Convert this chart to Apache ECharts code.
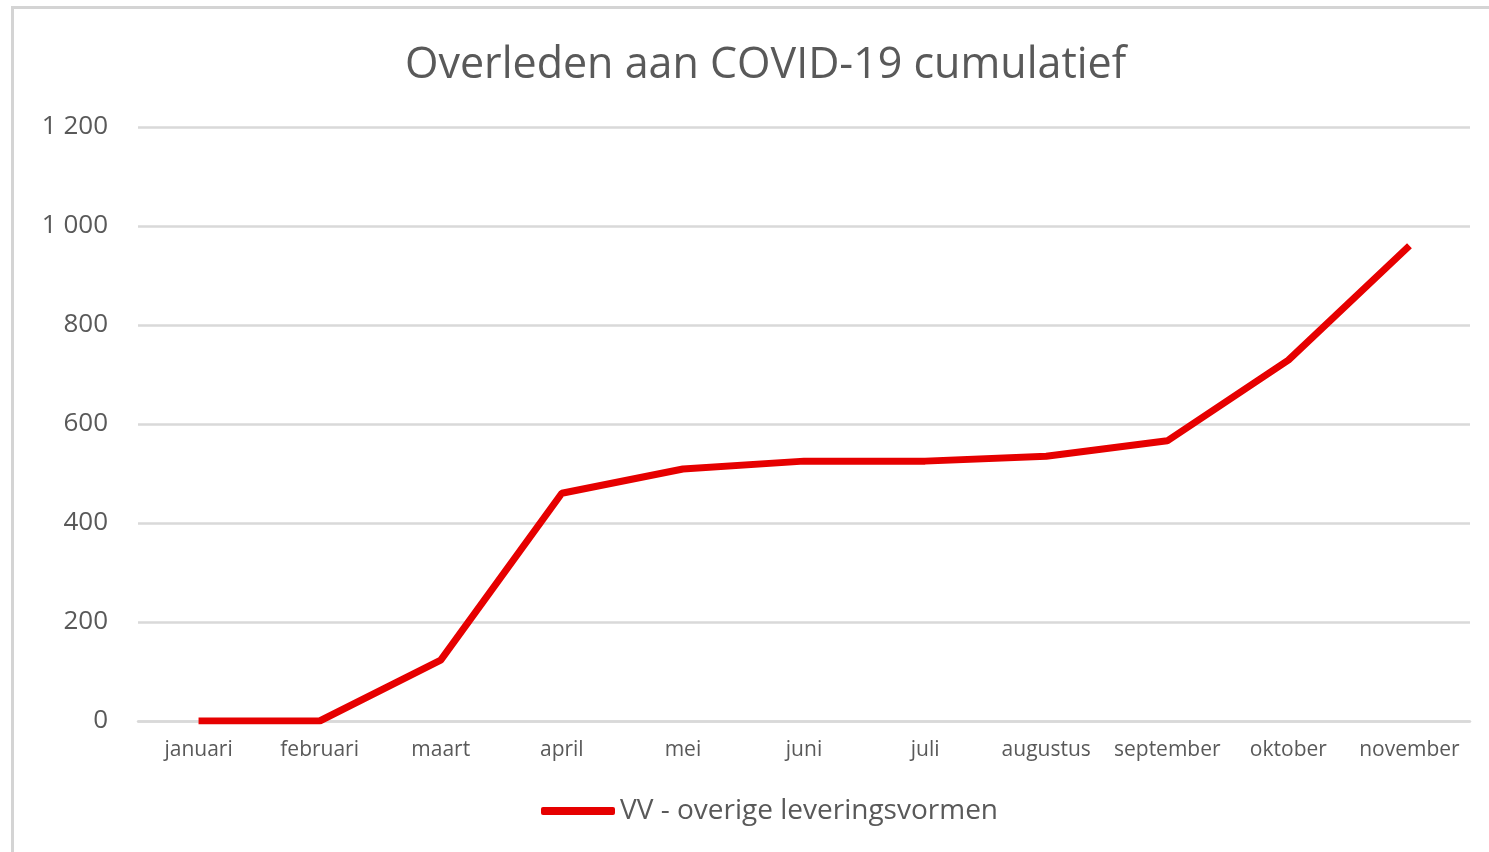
<!DOCTYPE html>
<html>
<head>
<meta charset="utf-8">
<script src="https://cdn.jsdelivr.net/npm/echarts@6/dist/echarts.min.js"></script>
<style>
  html, body { margin: 0; padding: 0; background: #fff; overflow: hidden; }
  #frame {
    position: absolute; left: 11px; top: 6px; width: 1500px; height: 900px;
    border-left: 3px solid #d4d4d4; border-top: 3px solid #d4d4d4; box-sizing: border-box;
  }
  #chart { position: absolute; left: 0; top: 0; width: 1489px; height: 852px; }
</style>
</head>
<body>
<div id="frame"></div>
<div id="chart"></div>
<script>
// maanden
var months = ['januari', 'februari', 'maart', 'april', 'mei', 'juni', 'juli',
  'augustus', 'september', 'oktober', 'november']
// overleden cumulatief
var deaths = [0, 0, 123, 460, 509, 525, 525, 535, 566, 729, 960]
var seriesName = 'VV - overige leveringsvormen'
var yTicks = [0, 200, 400, 600, 800, 1000, 1200]

var chart = echarts.init(document.getElementById('chart'))
var grey = '#595959'

chart.setOption({
  animation: false,
  textStyle: { fontFamily: 'Open Sans' },
  title: {
    text: 'Overleden aan COVID-19 cumulatief',
    left: 400,
    top: 39,
    textStyle: { color: grey, fontSize: 43, fontWeight: 'normal', fontFamily: 'Open Sans' }
  },
  legend: {
    bottom: 22,
    left: 536,
    itemWidth: 74,
    itemHeight: 8,
    itemGap: 4,
    icon: 'roundRect',
    textStyle: { color: grey, fontSize: 28, fontFamily: 'Open Sans' },
    data: [seriesName]
  },
  grid: {
    left: 138,
    right: 19,
    top: 127,
    bottom: 131,
    containLabel: false
  },
  xAxis: {
    type: 'category',
    data: months,
    boundaryGap: true,
    axisTick: { show: false },
    axisLine: { lineStyle: { color: '#d9d9d9', width: 2.5 } },
    axisLabel: { color: grey, fontSize: 21, margin: 19, interval: 0 }
  },
  yAxis: {
    type: 'value',
    min: yTicks[0],
    max: yTicks[yTicks.length - 1],
    interval: 200,
    axisLine: { show: false },
    axisTick: { show: false },
    axisLabel: {
      color: grey,
      fontSize: 26,
      margin: 30,
      formatter: function (v) {
        return String(v).replace(/\B(?=(\d{3})+(?!\d))/g, ' ')
      }
    },
    splitLine: { lineStyle: { color: '#d9d9d9', width: 2.5 } }
  },
  series: [
    {
      name: seriesName,
      type: 'line',
      data: deaths,
      symbol: 'none',
      itemStyle: { color: '#e60000' },
      lineStyle: { color: '#e60000', width: 7 }
    }
  ]
})
</script>
</body>
</html>
